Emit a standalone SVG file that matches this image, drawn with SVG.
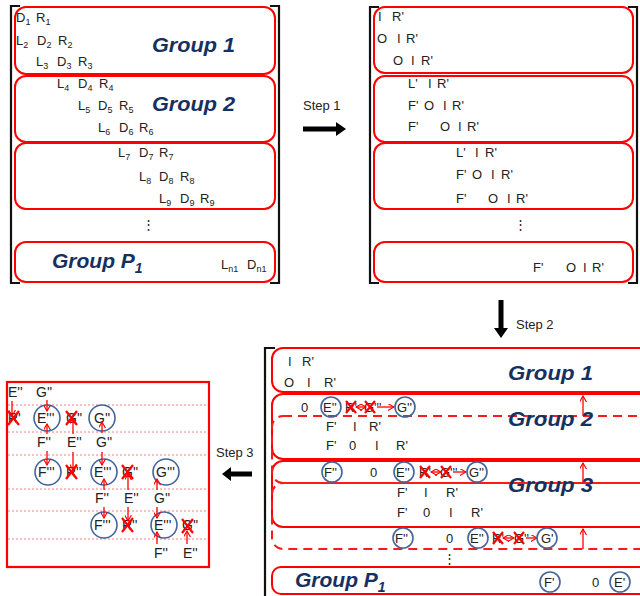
<svg xmlns="http://www.w3.org/2000/svg" width="640" height="596" viewBox="0 0 640 596">
<defs>
<style>
text{font-family:"Liberation Sans",Arial,sans-serif;fill:#222;}
.m{font-size:13px;}
.s{font-size:9px;}
.b{font-size:14px;}
.grp{font-size:21px;font-weight:bold;font-style:italic;fill:#16305f;}
.box{fill:none;stroke:#ff0000;stroke-width:2;}
.dash{fill:none;stroke:#ff1a1a;stroke-width:2;stroke-dasharray:9,6;}
.brk{fill:none;stroke:#111;stroke-width:2.2;}
.cir{fill:none;stroke:#44669a;stroke-width:1.6;}
.ra{stroke:#ff0000;stroke-width:1.3;fill:none;marker-end:url(#ah);}
.rb{stroke:#ff0000;stroke-width:1.3;fill:none;marker-end:url(#ah);marker-start:url(#ahs);}
.x{stroke:#ff0000;stroke-width:2.2;fill:none;}
.dot{stroke:#f08080;stroke-width:1;stroke-dasharray:2,2;}
.big{fill:#000;}
</style>
<marker id="ah" viewBox="0 0 8 8" refX="7" refY="4" markerWidth="7" markerHeight="7" markerUnits="userSpaceOnUse" orient="auto"><path d="M0,0 L7,4 L0,8" fill="none" stroke="#ff0000" stroke-width="1.3"/></marker>
<marker id="ahs" viewBox="0 0 8 8" refX="1" refY="4" markerWidth="7" markerHeight="7" markerUnits="userSpaceOnUse" orient="auto"><path d="M8,0 L1,4 L8,8" fill="none" stroke="#ff0000" stroke-width="1.3"/></marker>
</defs>
<rect width="640" height="596" fill="#fff"/>

<!-- Top-left matrix -->
<g id="matrix-original">
<path class="brk" d="M20,6 H11 V283 H20"/>
<path class="brk" d="M270,6 H279 V283 H270"/>
<rect class="box" x="15" y="7" width="260" height="67" rx="11"/>
<rect class="box" x="15" y="76" width="260" height="66" rx="11"/>
<rect class="box" x="15" y="143" width="260" height="66" rx="11"/>
<rect class="box" x="15" y="242" width="260" height="40" rx="11"/>
<text class="m" x="16" y="22">D<tspan class="s" dy="3">1</tspan></text><text class="m" x="36" y="22">R<tspan class="s" dy="3">1</tspan></text>
<text class="m" x="16" y="45">L<tspan class="s" dy="3">2</tspan></text><text class="m" x="37" y="45">D<tspan class="s" dy="3">2</tspan></text><text class="m" x="58" y="45">R<tspan class="s" dy="3">2</tspan></text>
<text class="m" x="36" y="66">L<tspan class="s" dy="3">3</tspan></text><text class="m" x="57" y="66">D<tspan class="s" dy="3">3</tspan></text><text class="m" x="78" y="66">R<tspan class="s" dy="3">3</tspan></text>
<text class="m" x="57" y="88">L<tspan class="s" dy="3">4</tspan></text><text class="m" x="78" y="88">D<tspan class="s" dy="3">4</tspan></text><text class="m" x="99" y="88">R<tspan class="s" dy="3">4</tspan></text>
<text class="m" x="78" y="110">L<tspan class="s" dy="3">5</tspan></text><text class="m" x="98" y="110">D<tspan class="s" dy="3">5</tspan></text><text class="m" x="119" y="110">R<tspan class="s" dy="3">5</tspan></text>
<text class="m" x="98" y="132">L<tspan class="s" dy="3">6</tspan></text><text class="m" x="119" y="132">D<tspan class="s" dy="3">6</tspan></text><text class="m" x="139" y="132">R<tspan class="s" dy="3">6</tspan></text>
<text class="m" x="118" y="157">L<tspan class="s" dy="3">7</tspan></text><text class="m" x="139" y="157">D<tspan class="s" dy="3">7</tspan></text><text class="m" x="159" y="157">R<tspan class="s" dy="3">7</tspan></text>
<text class="m" x="139" y="181">L<tspan class="s" dy="3">8</tspan></text><text class="m" x="159" y="181">D<tspan class="s" dy="3">8</tspan></text><text class="m" x="180" y="181">R<tspan class="s" dy="3">8</tspan></text>
<text class="m" x="159" y="203">L<tspan class="s" dy="3">9</tspan></text><text class="m" x="180" y="203">D<tspan class="s" dy="3">9</tspan></text><text class="m" x="200" y="203">R<tspan class="s" dy="3">9</tspan></text>
<text class="m" x="142" y="229">⋮</text>
<text class="m" x="221" y="269">L<tspan class="s" dy="3">n1</tspan></text><text class="m" x="247" y="269">D<tspan class="s" dy="3">n1</tspan></text>
<text class="grp" x="152" y="52" textLength="83" lengthAdjust="spacingAndGlyphs">Group 1</text>
<text class="grp" x="152" y="111" textLength="83" lengthAdjust="spacingAndGlyphs">Group 2</text>
<text class="grp" x="52" y="268">Group P<tspan font-size="14" dy="5">1</tspan></text>
</g>

<!-- Top-right matrix -->
<g id="matrix-step1">
<path class="brk" d="M379,7 H370 V283 H379"/>
<path class="brk" d="M628,7 H637 V283 H628"/>
<rect class="box" x="374" y="7" width="259" height="66" rx="11"/>
<rect class="box" x="374" y="76" width="259" height="66" rx="11"/>
<rect class="box" x="374" y="143" width="259" height="66" rx="11"/>
<rect class="box" x="374" y="242" width="259" height="40" rx="11"/>
<g class="m">
<text class="m" x="378" y="21">I</text><text class="m" x="392" y="21">R'</text>
<text class="m" x="377" y="43">O</text><text class="m" x="397" y="43">I</text><text class="m" x="406" y="43">R'</text>
<text class="m" x="393" y="65">O</text><text class="m" x="411" y="65">I</text><text class="m" x="421" y="65">R'</text>
<text class="m" x="408" y="88">L'</text><text class="m" x="428" y="88">I</text><text class="m" x="437" y="88">R'</text>
<text class="m" x="408" y="110">F'</text><text class="m" x="424" y="110">O</text><text class="m" x="443" y="110">I</text><text class="m" x="452" y="110">R'</text>
<text class="m" x="408" y="131">F'</text><text class="m" x="440" y="131">O</text><text class="m" x="458" y="131">I</text><text class="m" x="467" y="131">R'</text>
<text class="m" x="456" y="157">L'</text><text class="m" x="475" y="157">I</text><text class="m" x="485" y="157">R'</text>
<text class="m" x="456" y="179">F'</text><text class="m" x="472" y="179">O</text><text class="m" x="491" y="179">I</text><text class="m" x="501" y="179">R'</text>
<text class="m" x="456" y="203">F'</text><text class="m" x="488" y="203">O</text><text class="m" x="507" y="203">I</text><text class="m" x="516" y="203">R'</text>
<text class="m" x="514" y="229">⋮</text>
<text class="m" x="533" y="272">F'</text><text class="m" x="566" y="272">O</text><text class="m" x="583" y="272">I</text><text class="m" x="592" y="272">R'</text>
</g>
</g>

<!-- Step arrows -->
<g id="connectors">
<g id="step1">
<text class="m" x="303" y="110">Step 1</text>
<path class="big" d="M303,126.5 H336 V122 L346,129 L336,136 V131.5 H303 Z"/>
</g>
<g id="step2">
<text class="m" x="516" y="329">Step 2</text>
<path class="big" d="M498.5,300 H503.5 V328 H508 L501,338 L494,328 H498.5 Z"/>
</g>
<g id="step3">
<text class="m" x="216" y="457">Step 3</text>
<path class="big" d="M252,471.5 V476.5 H231 V481 L222,474 L231,467 V471.5 Z"/>
</g>
</g>

<!-- Bottom-right matrix -->
<g id="matrix-step2">
<path class="brk" d="M275,348 H265 V596"/>
<rect class="box" x="272" y="348" width="380" height="44" rx="11"/>
<rect class="box" x="272" y="394" width="380" height="65" rx="11"/>
<rect class="box" x="272" y="461" width="380" height="66" rx="11"/>
<rect class="dash" x="272" y="416" width="380" height="67" rx="11"/>
<rect class="dash" x="272" y="483" width="380" height="66" rx="11"/>
<rect class="box" x="272" y="567" width="380" height="27" rx="9"/>
<path class="ra" d="M583,416 V396"/>
<path class="ra" d="M583,483 V463"/>
<path class="ra" d="M583,549 V529"/>
<text class="grp" x="508" y="380" textLength="85" lengthAdjust="spacingAndGlyphs">Group 1</text>
<text class="grp" x="508" y="426" textLength="85" lengthAdjust="spacingAndGlyphs">Group 2</text>
<text class="grp" x="508" y="492" textLength="85" lengthAdjust="spacingAndGlyphs">Group 3</text>
<text class="grp" x="295" y="587">Group P<tspan font-size="14" dy="5">1</tspan></text>
<text class="m" x="288" y="366">I</text><text class="m" x="302" y="366">R'</text>
<text class="m" x="284" y="387">O</text><text class="m" x="307" y="387">I</text><text class="m" x="324" y="387">R'</text>
<!-- row A -->
<text class="m" x="301" y="412">0</text>
<circle class="cir" cx="331" cy="407" r="10"/><text class="m" x="323" y="412">E''</text>
<text class="m" x="345" y="412">R'</text><path class="x" d="M346,401 L356,413 M356,401 L346,413"/>
<text class="m" x="364" y="412">G'''</text><path class="x" d="M365,401 L375,413 M375,401 L365,413"/>
<path class="rb" d="M356,407 H366"/><path class="ra" d="M377,407 H394"/>
<circle class="cir" cx="405" cy="407" r="10"/><text class="m" x="397" y="412">G''</text>
<text class="m" x="326" y="431">F'</text><text class="m" x="353" y="431">I</text><text class="m" x="369" y="431">R'</text>
<text class="m" x="326" y="450">F'</text><text class="m" x="349" y="450">0</text><text class="m" x="375" y="450">I</text><text class="m" x="396" y="450">R'</text>
<!-- row B -->
<circle class="cir" cx="332" cy="472" r="10"/><text class="m" x="324" y="477">F''</text>
<text class="m" x="370" y="477">0</text>
<circle class="cir" cx="404" cy="472" r="10"/><text class="m" x="396" y="477">E''</text>
<text class="m" x="419" y="477">R'</text><path class="x" d="M420,466 L430,478 M430,466 L420,478"/>
<text class="m" x="440" y="477">G'''</text><path class="x" d="M441,466 L451,478 M451,466 L441,478"/>
<path class="rb" d="M431,472 H441"/><path class="ra" d="M453,472 H466"/>
<circle class="cir" cx="477" cy="472" r="10"/><text class="m" x="469" y="477">G''</text>
<text class="m" x="397" y="497">F'</text><text class="m" x="424" y="497">I</text><text class="m" x="446" y="497">R'</text>
<text class="m" x="397" y="517">F'</text><text class="m" x="423" y="517">0</text><text class="m" x="449" y="517">I</text><text class="m" x="471" y="517">R'</text>
<!-- row C -->
<circle class="cir" cx="403" cy="538" r="10"/><text class="m" x="395" y="543">F''</text>
<text class="m" x="446" y="543">0</text>
<circle class="cir" cx="478" cy="538" r="10"/><text class="m" x="470" y="543">E''</text>
<text class="m" x="492" y="543">R'</text><path class="x" d="M493,532 L503,544 M503,532 L493,544"/>
<text class="m" x="514" y="543">G''</text><path class="x" d="M514,532 L524,544 M524,532 L514,544"/>
<path class="rb" d="M503,538 H514"/><path class="ra" d="M526,538 H537"/>
<circle class="cir" cx="547" cy="538" r="10"/><text class="m" x="541" y="543">G'</text>
<text class="m" x="443" y="563">⋮</text>
<circle class="cir" cx="550" cy="582" r="10"/><text class="m" x="544" y="587">F'</text>
<text class="m" x="592" y="587">0</text>
<circle class="cir" cx="620" cy="582" r="10"/><text class="m" x="614" y="587">E'</text>
</g>

<!-- Bottom-left panel -->
<g id="panel-step3">
<rect x="7" y="382" width="202" height="185" fill="none" stroke="#ff0000" stroke-width="2.2"/>
<path class="dot" d="M8,405 H208 M8,432 H208 M8,455 H208 M8,489 H208 M8,511 H208 M8,539 H208"/>
<text class="b" x="8" y="397">E''</text><text class="b" x="36" y="397">G''</text>
<text class="b" x="8" y="423">R'</text><path class="x" d="M8,411 L19,425 M19,411 L8,425"/>
<circle class="cir" cx="47" cy="418" r="13"/><text class="b" x="37" y="423">E'''</text>
<text class="b" x="66" y="423">G''</text><path class="x" d="M66,411 L77,425 M77,411 L66,425"/>
<circle class="cir" cx="102" cy="418" r="13"/><text class="b" x="94" y="423">G''</text>
<text class="b" x="37" y="447">F''</text><text class="b" x="67" y="447">E''</text><text class="b" x="96" y="447">G''</text>
<circle class="cir" cx="48" cy="472" r="13"/><text class="b" x="38" y="477">F'''</text>
<text class="b" x="66" y="477">R''</text><path class="x" d="M66,465 L77,479 M77,465 L66,479"/>
<circle class="cir" cx="104" cy="472" r="13"/><text class="b" x="94" y="477">E'''</text>
<text class="b" x="122" y="477">G''</text><path class="x" d="M122,465 L133,479 M133,465 L122,479"/>
<circle class="cir" cx="166" cy="472" r="13"/><text class="b" x="156" y="477">G'''</text>
<text class="b" x="95" y="503">F''</text><text class="b" x="124" y="503">E''</text><text class="b" x="154" y="503">G''</text>
<circle class="cir" cx="104" cy="525" r="13"/><text class="b" x="94" y="530">F'''</text>
<text class="b" x="122" y="530">R''</text><path class="x" d="M122,518 L133,532 M133,518 L122,532"/>
<circle class="cir" cx="164" cy="525" r="13"/><text class="b" x="154" y="530">E'''</text>
<text class="b" x="182" y="530">G''</text><path class="x" d="M182,519 L193,533 M193,519 L182,533"/>
<text class="b" x="154" y="558">F''</text><text class="b" x="183" y="558">E''</text>
<path class="ra" d="M12,401 V416"/>
<path class="ra" d="M47,400 V411"/>
<path class="ra" d="M47,434 V424"/><path class="ra" d="M47,451 V465"/>
<path class="ra" d="M73,434 V418"/><path class="ra" d="M73,452 V470"/>
<path class="ra" d="M102,433 V422"/><path class="ra" d="M102,452 V465"/>
<path class="ra" d="M104,490 V479"/><path class="ra" d="M104,507 V518"/>
<path class="ra" d="M128,490 V474"/><path class="ra" d="M128,507 V521"/>
<path class="ra" d="M157,490 V479"/><path class="ra" d="M157,507 V518"/>
<path class="ra" d="M157,544 V532"/><path class="ra" d="M187,544 V531"/>
</g>
</svg>
